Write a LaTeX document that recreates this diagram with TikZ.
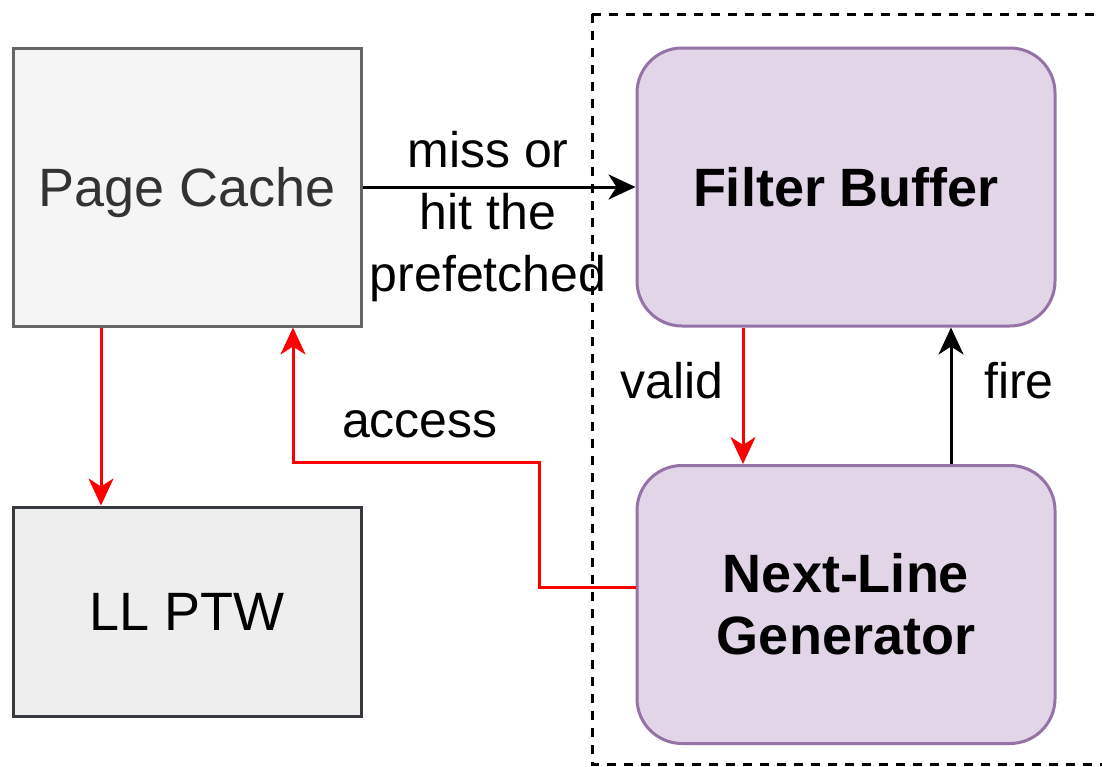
\documentclass[tikz,border=0pt]{standalone}
\usepackage{fontspec}
\setmainfont{Liberation Sans}
\usetikzlibrary{arrows.meta}
\definecolor{pcfill}{HTML}{F5F5F5}
\definecolor{pcdraw}{HTML}{666666}
\definecolor{pctext}{HTML}{333333}
\definecolor{llfill}{HTML}{EEEEEE}
\definecolor{lldraw}{HTML}{36393D}
\definecolor{pfill}{HTML}{E1D5E7}
\definecolor{pdraw}{HTML}{9673A6}
\definecolor{arred}{HTML}{FF0000}
\tikzset{
  greybox/.style={draw=pcdraw, fill=pcfill, line width=3pt, minimum width=348pt, minimum height=278pt, inner sep=0pt, text=pctext, text depth=0pt, font=\fontsize{54}{62}\selectfont},
  ptwbox/.style={draw=lldraw, fill=llfill, line width=3pt, minimum width=348pt, minimum height=209pt, inner sep=0pt, text=black, font=\fontsize{54}{62}\selectfont},
  purplebox/.style={draw=pdraw, fill=pfill, line width=3pt, rounded corners=45pt, minimum width=418pt, minimum height=278pt, inner sep=0pt, align=center, font=\fontsize{54}{62}\selectfont\bfseries},
  lbl/.style={font=\fontsize{50}{62}\selectfont, align=center, inner sep=0pt},
  conn/.style={line width=3pt, -{Stealth[length=27pt,width=25pt,inset=8pt]}},
  redconn/.style={conn, draw=arred, -{Stealth[length=27pt,width=25pt,inset=8pt,fill=arred]}},
  frame/.style={draw=black, line width=3pt, dash pattern=on 9pt off 8pt}
}
\begin{document}
\begin{tikzpicture}[x=1pt,y=-1pt]
\useasboundingbox (0,0) rectangle (1102,766);
\draw[frame] (592,14) -- (1115,14) (592,14) -- (592,764) -- (1115,764);
\node[greybox] (pc) at (187,187) {Page Cache};
\node[ptwbox] (ll) at (187,611.5) {LL PTW};
\node[purplebox] (fb) at (846,187) {Filter Buffer};
\node[purplebox] (nl) at (846,604.5) {Next-Line\\Generator};
\coordinate (acc1) at (539,587);
\coordinate (acc2) at (539,462);
\coordinate (acc3) at (293,462);
\draw[conn] (pc.east) -- (fb.west);
\node[lbl] (mlbl) at (488,217) {miss or\\hit the\\prefetched};
\draw[redconn] (pc.south -| 101,0) -- (ll.north -| 101,0);
\draw[redconn] (nl.west |- acc1) -- (acc1) -- (acc2) -- (acc3) -- (pc.south -| acc3);
\node[lbl] (alab) at (420,424) {access};
\draw[redconn] (fb.south -| 743,0) -- (nl.north -| 743,0);
\node[lbl] (vlab) at (672,381) {valid};
\draw[conn] (nl.north -| 951,0) -- (fb.south -| 951,0);
\node[lbl] (flab) at (1019,381) {fire};
\end{tikzpicture}
\end{document}
